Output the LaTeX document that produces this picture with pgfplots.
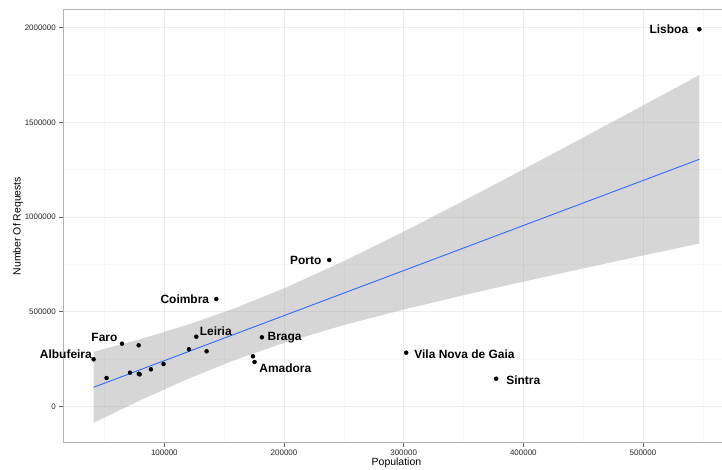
\documentclass[border=0pt]{standalone}
\usepackage{pgfplots}
\pgfplotsset{compat=1.18}
\usepackage{fontspec}
\setmainfont{Liberation Sans}
\definecolor{ggblue}{HTML}{3366FF}
\begin{document}
\begin{tikzpicture}[x=1bp,y=1bp,lbl/.style={font=\fontsize{12}{14}\selectfont\bfseries, inner sep=0pt}]
\useasboundingbox (0,0) rectangle (722,470);
\begin{axis}[
  at={(63.3bp,27.3bp)}, anchor=south west,
  scale only axis, width=666.3bp, height=433.4bp,
  xmin=15540, xmax=572400, ymin=-192300, ymax=2097200,
  clip=false,
  axis line style={black!30, line width=1bp},
  xtick={100000,200000,300000,400000,500000},
  ytick={0,500000,1000000,1500000,2000000},
  minor xtick={50000,150000,250000,350000,450000,550000},
  minor ytick={250000,750000,1250000,1750000},
  grid=both,
  major grid style={black!7, line width=0.5bp},
  minor grid style={black!3, line width=0.5bp},
  tick align=outside, xtick pos=left, ytick pos=left,
  major tick length=4bp, minor tick length=0pt,
  tick style={black!60, line width=0.6bp},
  scaled ticks=false,
  /pgf/number format/assume math mode=true,
  xticklabel style={/pgf/number format/fixed, /pgf/number format/1000 sep={}},
  yticklabel style={/pgf/number format/fixed, /pgf/number format/1000 sep={}},
  tick label style={font=\fontsize{8}{9}\selectfont, text=black!85},
  xlabel={Population}, ylabel={Number Of Requests},
  label style={font=\fontsize{10.5}{12}\selectfont},
  xlabel style={at={(axis description cs:0.5,-0.047)}, anchor=center},
  ylabel style={at={(axis description cs:-0.068,0.5)}, anchor=center},
]
% confidence band
\addplot[fill=black!40, fill opacity=0.4, draw=none] coordinates {
(40850,287900) (80000,354800) (120000,431700) (158700,517400) (200000,622800)
(250000,767000) (300000,922800) (350000,1085100) (400000,1251200) (450000,1419400)
(500000,1589000) (547100,1749600)
(547100,860000) (500000,796500) (450000,728200) (400000,658500) (350000,586600)
(300000,511100) (250000,429000) (200000,335200) (158700,244200) (120000,145700)
(80000,32200) (40850,-87100)
} -- cycle;
% regression line
\addplot[ggblue, line width=0.9bp] coordinates {(40850,100400) (547100,1304800)};
% points
\addplot[only marks, mark=*, mark size=2bp, black] coordinates {
(547100,1991500) (40850,248300) (51700,149500) (64600,330700) (78500,322200)
(71300,177500) (78600,172000) (79400,168500) (88800,195400) (99300,223500)
(120500,301100) (126700,367700) (135300,290500) (143400,566800) (181500,364500)
(174000,264100) (175400,234000) (237800,772900) (302100,283200) (377300,145800)
};
\node[lbl, anchor=east, xshift=-11bp] at (axis cs:547100,1991500) {Lisboa};
\node[lbl, anchor=east, xshift=-1.6bp, yshift=5.3bp] at (axis cs:40850,248300) {Albufeira};
\node[lbl, anchor=east, xshift=-4.4bp, yshift=6.4bp] at (axis cs:64600,330700) {Faro};
\node[lbl, anchor=east, xshift=-7bp] at (axis cs:143400,566800) {Coimbra};
\node[lbl, anchor=west, xshift=3.3bp, yshift=5bp] at (axis cs:126700,367700) {Leiria};
\node[lbl, anchor=east, xshift=-7.7bp] at (axis cs:237800,772900) {Porto};
\node[lbl, anchor=west, xshift=5.6bp, yshift=-0.3bp] at (axis cs:181500,364500) {Braga};
\node[lbl, anchor=west, xshift=4.7bp, yshift=-6bp] at (axis cs:175400,234000) {Amadora};
\node[lbl, anchor=west, xshift=8bp, yshift=-1.3bp] at (axis cs:302100,283200) {Vila Nova de Gaia};
\node[lbl, anchor=west, xshift=10bp, yshift=-1.3bp] at (axis cs:377300,145800) {Sintra};
\end{axis}
\end{tikzpicture}
\end{document}
